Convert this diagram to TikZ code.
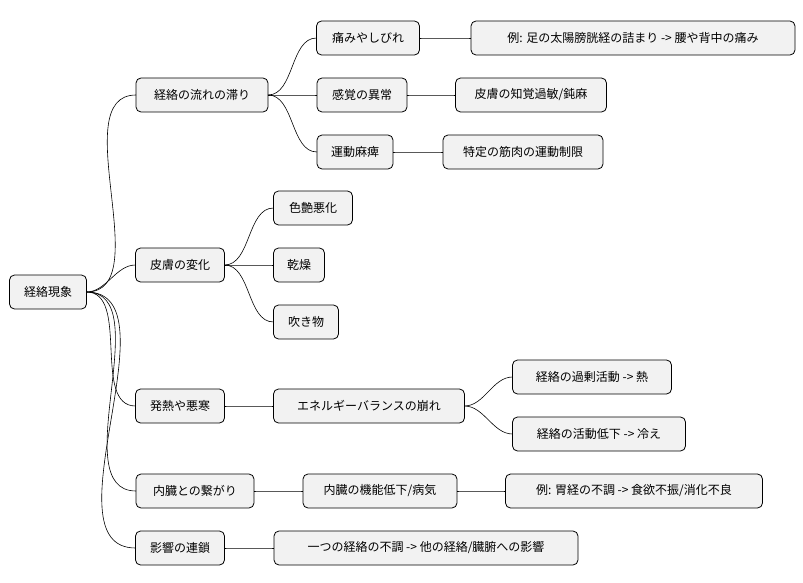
\documentclass[tikz,border=0pt]{standalone}
\usepackage{fontspec}
\newfontfamily\cjk{Noto Sans CJK JP}
\tikzset{
    idea/.style = {
        draw, fill=gray!10, rectangle, rounded corners=5pt,
        line width=0.8pt,
        inner sep=0, outer sep=0,
        minimum height=34pt,
        font=\cjk\fontsize{12}{14}\selectfont
    },
    link/.style = {
        line width=0.6pt,
        out=0, in=180, looseness=0.9
    }
}
\begin{document}
\begin{tikzpicture}[x=1pt,y=-1pt]
\useasboundingbox (0,0) rectangle (803,583);

% 1. nodes
\node[idea,minimum width=77pt]  (root) at (48,292)  {経絡現象};
\node[idea,minimum width=132pt] (flow) at (202,95)  {経絡の流れの滞り};
\node[idea,minimum width=103pt] (pain) at (368,38)  {痛みやしびれ};
\node[idea,minimum width=324pt] (ex1)  at (633,38)  {例: 足の太陽膀胱経の詰まり -> 腰や背中の痛み};
\node[idea,minimum width=90pt]  (sens) at (362,95)  {感覚の異常};
\node[idea,minimum width=151pt] (hyp)  at (531,95)  {皮膚の知覚過敏/鈍麻};
\node[idea,minimum width=76pt]  (mot)  at (355,152) {運動麻痺};
\node[idea,minimum width=160pt] (mus)  at (523,152) {特定の筋肉の運動制限};
\node[idea,minimum width=89pt]  (skin) at (180,265) {皮膚の変化};
\node[idea,minimum width=79pt]  (col)  at (313,208) {色艶悪化};
\node[idea,minimum width=51pt]  (dry)  at (299,265) {乾燥};
\node[idea,minimum width=65pt]  (acne) at (306,322) {吹き物};
\node[idea,minimum width=89pt]  (fev)  at (180,406) {発熱や悪寒};
\node[idea,minimum width=191pt] (bal)  at (369,406) {エネルギーバランスの崩れ};
\node[idea,minimum width=159pt] (hot)  at (592,377) {経絡の過剰活動 -> 熱};
\node[idea,minimum width=173pt] (cold) at (599,434) {経絡の活動低下 -> 冷え};
\node[idea,minimum width=118pt] (org)  at (195,491) {内臓との繋がり};
\node[idea,minimum width=154pt] (dys)  at (380,491) {内臓の機能低下/病気};
\node[idea,minimum width=257pt] (ex2)  at (634,491) {例: 胃経の不調 -> 食欲不振/消化不良};
\node[idea,minimum width=89pt]  (chn)  at (180,548) {影響の連鎖};
\node[idea,minimum width=304pt] (spr)  at (426,548) {一つの経絡の不調 -> 他の経絡/臓腑への影響};

% 2. connectors
\foreach \a/\b in {root/flow,root/skin,root/fev,root/org,root/chn,
    flow/pain,flow/sens,flow/mot,pain/ex1,sens/hyp,mot/mus,
    skin/col,skin/dry,skin/acne,fev/bal,bal/hot,bal/cold,
    org/dys,dys/ex2,chn/spr}
  \draw[link] (\a.east) to (\b.west);

\end{tikzpicture}
\end{document}
